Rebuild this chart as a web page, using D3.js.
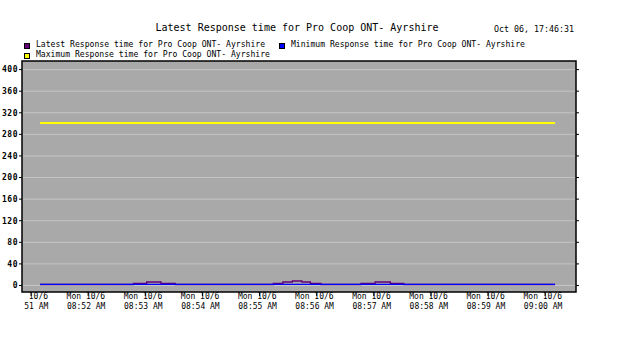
<!DOCTYPE html>
<meta charset="utf-8">
<script src="https://d3js.org/d3.v7.min.js"></script>
<style>
body { margin: 0; background: #fff; }
text { font-family: "DejaVu Sans Mono", "Liberation Mono", monospace; fill: #000; }
</style>
<div id="chart"></div>
<script>

// ---- data ----
var chartTitle = "Latest Response time for Pro Coop ONT- Ayrshire";
var stamp = "Oct 06, 17:46:31";
var seriesNames = [
  "Latest Response time for Pro Coop ONT- Ayrshire",
  "Minimum Response time for Pro Coop ONT- Ayrshire",
  "Maximum Response time for Pro Coop ONT- Ayrshire"
];
var seriesColors = ["#660077", "#0000ff", "#ffff00"];

// sample times (Mon Oct 6)
var sampleTimes = ["08:51:10", "08:52:48", "08:53:02", "08:53:17", "08:53:32",
  "08:55:15", "08:55:25", "08:55:35", "08:55:45", "08:55:54", "08:56:05",
  "08:56:47", "08:57:02", "08:57:18", "08:57:32", "09:00:11"];
var latestValues = [1, 3, 5.5, 3, 1, 3, 5.5, 7.5, 5.5, 3, 1, 3, 5.5, 3, 1, 1];
var minValues    = [1, 1, 1, 1, 1, 1, 1, 1, 1, 1, 1, 1, 1, 1, 1, 1];
var maxValues    = [300, 300, 300, 300, 300, 300, 300, 300, 300, 300, 300, 300, 300, 300, 300, 300];

var yTicks = [0, 40, 80, 120, 160, 200, 240, 280, 320, 360, 400];
var xTickTimes = ["08:51", "08:52", "08:53", "08:54", "08:55", "08:56", "08:57", "08:58", "08:59", "09:00"];
var xTickDay = "Mon 10/6";

// ---- setup ----
var W = 626, H = 353;
var plot = {left: 22, right: 576, top: 61, bottom: 292};

var parseT = d3.timeParse("%Y-%m-%d %H:%M:%S");
function t(s) { return parseT("2014-10-06 " + (s.length == 5 ? s + ":00" : s)); }

var svg = d3.select("#chart").append("svg")
  .attr("width", W).attr("height", H);

svg.append("rect").attr("width", W).attr("height", H).attr("fill", "#fff");

var x = d3.scaleTime()
  .domain([t("08:50:51"), t("09:00:33")])
  .range([plot.left, plot.right]);

var y = d3.scaleLinear()
  .domain([-13, 415])
  .range([plot.bottom, plot.top]);

// title + timestamp
svg.append("text")
  .attr("x", (plot.left + plot.right) / 2 - 2)
  .attr("y", 31)
  .attr("text-anchor", "middle")
  .style("font-size", "10px")
  .text(chartTitle);

svg.append("text")
  .attr("x", 574)
  .attr("y", 31.5)
  .attr("text-anchor", "end")
  .style("font-size", "8.3px")
  .text(stamp);

// legend
var legendPos = [[24, 43], [279, 43], [24, 53]];
seriesNames.forEach(function(name, i) {
  var g = svg.append("g").attr("transform", "translate(" + legendPos[i][0] + "," + legendPos[i][1] + ")");
  g.append("rect")
    .attr("x", 0.5).attr("y", 0.5)
    .attr("width", 5).attr("height", 5)
    .attr("fill", seriesColors[i])
    .attr("stroke", "#000").attr("stroke-width", 1);
  g.append("text")
    .attr("x", 12).attr("y", 4)
    .style("font-size", "8.1px")
    .text(name);
});

// plot background
svg.append("rect")
  .attr("x", plot.left).attr("y", plot.top)
  .attr("width", plot.right - plot.left)
  .attr("height", plot.bottom - plot.top)
  .attr("fill", "#a9a9a9");

// gridlines
svg.append("g")
  .attr("class", "grid")
  .attr("transform", "translate(" + plot.left + ",0)")
  .call(d3.axisLeft(y).tickValues(yTicks).tickSize(-(plot.right - plot.left)).tickFormat(""))
  .call(function(g) {
    g.select(".domain").remove();
    g.selectAll("line").attr("stroke", "#c6c6c6").attr("stroke-width", 1);
  });

// series lines
var lineGen = d3.line()
  .x(function(d) { return x(d.t); })
  .y(function(d) { return y(d.v); })
  .curve(d3.curveStepAfter);

function series(vals) {
  return sampleTimes.map(function(s, i) { return {t: t(s), v: vals[i]}; });
}

svg.append("path").datum(series(maxValues))
  .attr("d", lineGen).attr("fill", "none")
  .attr("stroke", seriesColors[2]).attr("stroke-width", 2);

svg.append("path").datum(series(latestValues))
  .attr("d", lineGen).attr("fill", "none")
  .attr("stroke", seriesColors[0]).attr("stroke-width", 1.4);

svg.append("path").datum(series(minValues))
  .attr("d", lineGen).attr("fill", "none")
  .attr("stroke", seriesColors[1]).attr("stroke-width", 1.3);

// frame
svg.append("rect")
  .attr("x", plot.left).attr("y", plot.top)
  .attr("width", plot.right - plot.left)
  .attr("height", plot.bottom - plot.top)
  .attr("fill", "none")
  .attr("stroke", "#000").attr("stroke-width", 1.5);

// y axis left
svg.append("g")
  .attr("transform", "translate(" + plot.left + ",0)")
  .call(d3.axisLeft(y).tickValues(yTicks).tickSize(3).tickPadding(1).tickFormat(d3.format("d")))
  .call(function(g) {
    g.select(".domain").remove();
    g.selectAll("line").attr("stroke", "#000");
    g.selectAll("text")
      .style("font-size", "8px")
      .style("font-weight", "bold")
      .style("letter-spacing", "0.5px")
      .attr("dy", "0.35em");
  });

// y axis right ticks
svg.append("g")
  .attr("transform", "translate(" + plot.right + ",0)")
  .call(d3.axisRight(y).tickValues(yTicks).tickSize(3).tickFormat(""))
  .call(function(g) {
    g.select(".domain").remove();
    g.selectAll("line").attr("stroke", "#000");
  });

// x axis
svg.append("defs").append("clipPath").attr("id", "xclip")
  .append("rect").attr("x", 24).attr("y", 0).attr("width", W).attr("height", H);

var xAxis = svg.append("g")
  .attr("transform", "translate(0," + plot.bottom + ")")
  .call(d3.axisBottom(x).tickValues(xTickTimes.map(t)).tickSize(3).tickFormat(""));
xAxis.select(".domain").remove();
xAxis.selectAll("line").attr("stroke", "#000").attr("transform", "translate(0,1)");

var xLabels = svg.append("g").attr("clip-path", "url(#xclip)");
xTickTimes.forEach(function(s) {
  var txt = xLabels.append("text")
    .attr("text-anchor", "middle")
    .style("font-size", "8px");
  txt.append("tspan")
    .attr("x", x(t(s)) - 1.8).attr("y", 298.5)
    .text(xTickDay);
  txt.append("tspan")
    .attr("x", x(t(s)) - 1.5).attr("y", 308.5)
    .text(s + " AM");
});

</script>
